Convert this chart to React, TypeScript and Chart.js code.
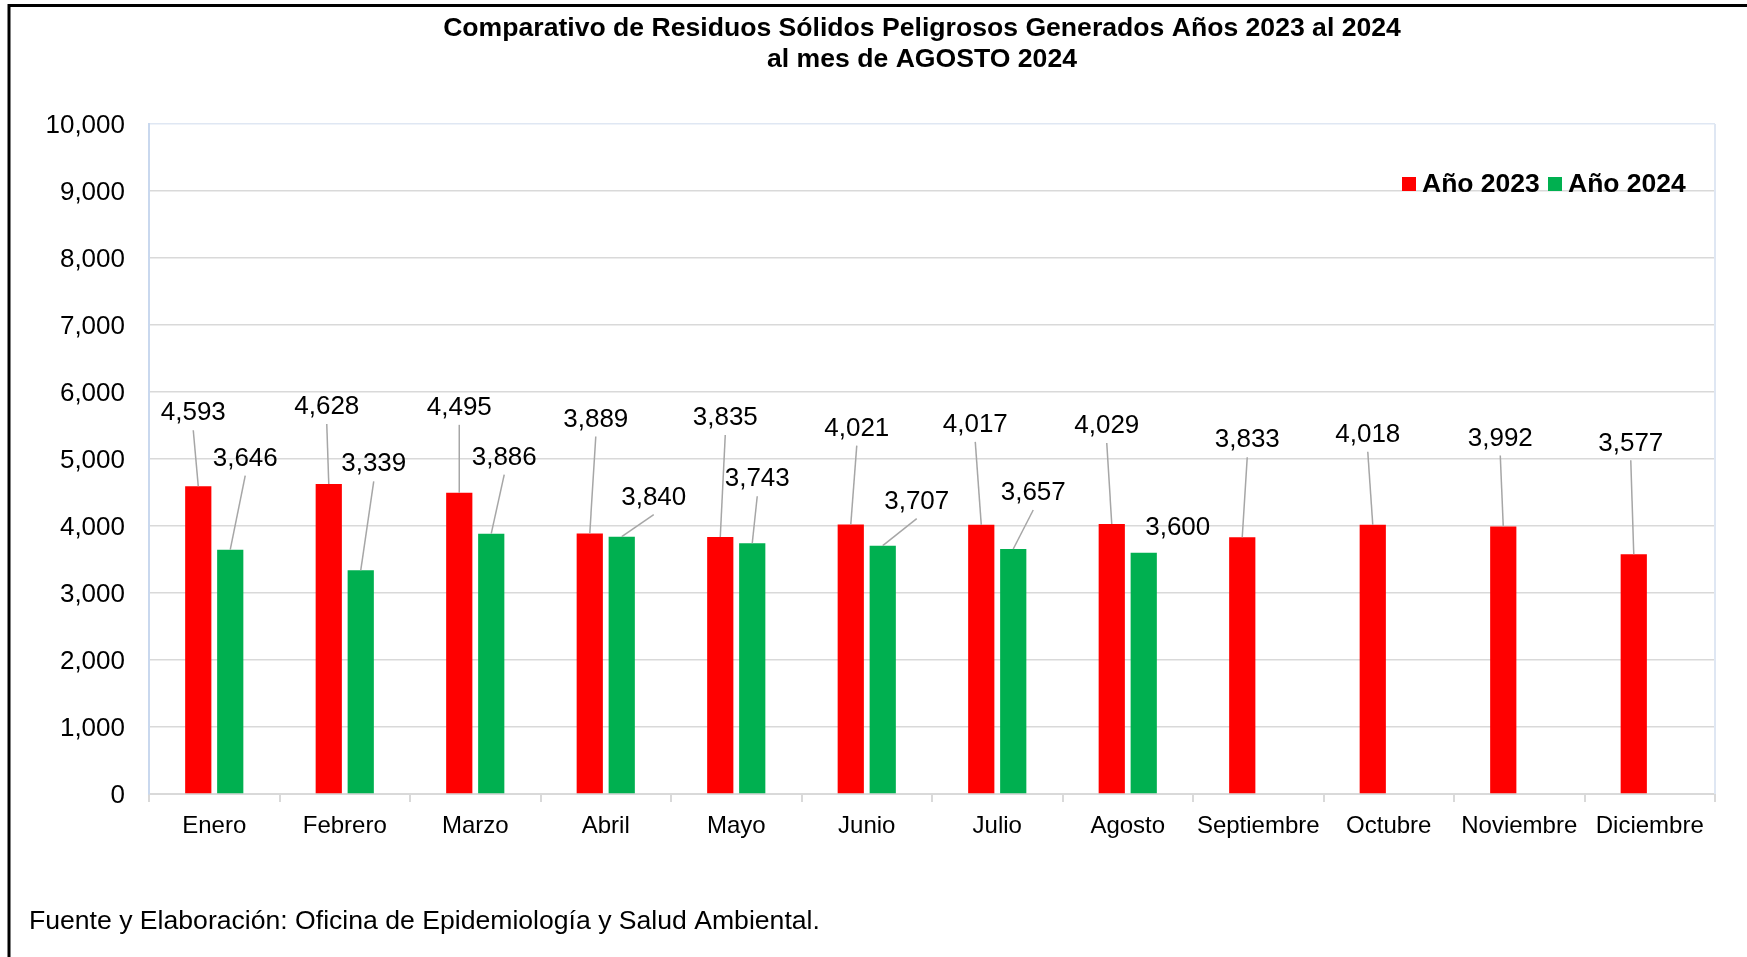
import React, { useEffect, useRef } from "react";
import { Chart, registerables } from "chart.js";

Chart.register(...registerables);

const FONT = "'Liberation Sans', Arial, Helvetica, sans-serif";

const titleLines = [
  "Comparativo de Residuos Sólidos Peligrosos Generados Años 2023 al 2024",
  "al mes de AGOSTO 2024",
];
const footerText = "Fuente y Elaboración: Oficina de Epidemiología y Salud Ambiental.";

const months = [
  "Enero", "Febrero", "Marzo", "Abril", "Mayo", "Junio",
  "Julio", "Agosto", "Septiembre", "Octubre", "Noviembre", "Diciembre",
];
const seriesNames = ["Año 2023", "Año 2024"];
const values2023 = [4593, 4628, 4495, 3889, 3835, 4021, 4017, 4029, 3833, 4018, 3992, 3577];
const values2024 = [3646, 3339, 3886, 3840, 3743, 3707, 3657, 3600, null, null, null, null];
const yMin = 0;
const yMax = 10000;
const yStep = 1000;

const seriesColors = ["#ff0000", "#00b050"];

// label placement offsets (px) relative to the top-centre of each bar
const labelOffsets2023: [number, number][] = [
  [-5, -73], [-2, -77], [0, -85], [6, -114], [5, -119], [6, -96],
  [-6, -100], [-5, -98], [5, -97], [-5, -90], [-3, -88], [-3, -111],
];
const labelOffsets2024: [number, number][] = [
  [15, -91], [13, -106], [13, -76], [32, -39], [5, -64], [34, -44],
  [20, -56], [34, -25],
];
const labelOffsets = [labelOffsets2023, labelOffsets2024];

const fmt = (v: number) => v.toLocaleString("en-US");

const decorPlugin = {
  id: "decor",
  beforeDraw(chart: any) {
    const { ctx, width, height } = chart;
    ctx.save();
    ctx.fillStyle = "#ffffff";
    ctx.fillRect(0, 0, width, height);
    ctx.restore();
  },
  afterDatasetsDraw(chart: any) {
    const { ctx, chartArea } = chart;
    ctx.save();
    // right frame of plot area
    ctx.strokeStyle = "#dfe7f3";
    ctx.lineWidth = 2;
    ctx.beginPath();
    ctx.moveTo(chartArea.right, chartArea.top);
    ctx.lineTo(chartArea.right, chartArea.bottom);
    ctx.stroke();

    // data labels with leader lines
    ctx.font = `26px ${FONT}`;
    ctx.fillStyle = "#000000";
    ctx.textAlign = "center";
    ctx.textBaseline = "middle";
    chart.data.datasets.forEach((ds: any, di: number) => {
      const meta = chart.getDatasetMeta(di);
      meta.data.forEach((bar: any, i: number) => {
        const v = ds.data[i];
        if (v == null) return;
        const off = labelOffsets[di][i] || [0, -30];
        const lx = bar.x + off[0];
        const ly = bar.y + off[1];
        if (bar.y - (ly + 13) > 23) {
          ctx.strokeStyle = "#a6a6a6";
          ctx.lineWidth = 1.5;
          ctx.beginPath();
          ctx.moveTo(lx, ly + 17);
          ctx.lineTo(bar.x, bar.y);
          ctx.stroke();
        }
        ctx.fillText(fmt(v), lx, ly);
      });
    });
    ctx.restore();
  },
  afterDraw(chart: any) {
    const { ctx, width, height } = chart;
    ctx.save();
    // outer frame (left and top edges visible)
    ctx.strokeStyle = "#000000";
    ctx.lineWidth = 3;
    ctx.beginPath();
    ctx.moveTo(9, height);
    ctx.lineTo(9, 5.5);
    ctx.lineTo(width, 5.5);
    ctx.stroke();

    // title
    ctx.fillStyle = "#000000";
    ctx.font = `bold 26.6px ${FONT}`;
    ctx.textAlign = "center";
    ctx.textBaseline = "middle";
    ctx.fillText(titleLines[0], 922, 29);
    ctx.fillText(titleLines[1], 922, 60);

    // legend
    const legendX = [1402, 1548];
    chart.data.datasets.forEach((ds: any, di: number) => {
      ctx.fillStyle = ds.backgroundColor;
      ctx.fillRect(legendX[di], 177, 14, 14);
      ctx.fillStyle = "#000000";
      ctx.font = `bold 26.5px ${FONT}`;
      ctx.textAlign = "left";
      ctx.fillText(ds.label, legendX[di] + 20, 185);
    });

    // footer
    ctx.font = `26.6px ${FONT}`;
    ctx.textAlign = "left";
    ctx.fillStyle = "#000000";
    ctx.fillText(footerText, 29, 922);
    ctx.restore();
  },
};

export default function App() {
  const canvasRef = useRef<HTMLCanvasElement | null>(null);

  useEffect(() => {
    if (!canvasRef.current) return;
    const chart = new Chart(canvasRef.current, {
      type: "bar",
      data: {
        labels: months,
        datasets: [
          {
            label: seriesNames[0],
            data: values2023,
            backgroundColor: seriesColors[0],
            categoryPercentage: 0.49,
            barPercentage: 0.82,
          },
          {
            label: seriesNames[1],
            data: values2024,
            backgroundColor: seriesColors[1],
            categoryPercentage: 0.49,
            barPercentage: 0.82,
          },
        ],
      },
      options: {
        responsive: false,
        animation: false,
        devicePixelRatio: 1,
        layout: { padding: { left: 0, right: 32, top: 124, bottom: 103 } },
        plugins: {
          legend: { display: false },
          title: { display: false },
          tooltip: { enabled: false },
        },
        scales: {
          x: {
            grid: {
              display: true,
              drawOnChartArea: false,
              drawTicks: true,
              tickLength: 8,
              color: "#d9d9d9",
              lineWidth: 2,
            },
            border: { display: true, color: "#d9d9d9", width: 2 },
            ticks: {
              font: { family: FONT, size: 24 },
              color: "#000000",
              padding: 10,
              maxRotation: 0,
              autoSkip: false,
            },
            afterFit: (s: any) => {
              s.height = 60;
            },
          },
          y: {
            min: yMin,
            max: yMax,
            ticks: {
              stepSize: yStep,
              font: { family: FONT, size: 26 },
              color: "#000000",
              padding: 24,
              labelOffset: 2,
              callback: (v: any) => fmt(Number(v)),
            },
            grid: {
              drawTicks: false,
              lineWidth: 1.5,
              color: (c: any) => (c.tick && c.tick.value === yMax ? "#dfe7f3" : "#d9d9d9"),
            },
            border: { display: true, color: "#c9d8ee", width: 2 },
            afterFit: (s: any) => {
              s.width = 149;
            },
          },
        },
      },
      plugins: [decorPlugin],
    });
    return () => chart.destroy();
  }, []);

  return (
    <div style={{ position: "absolute", left: 0, top: 0, width: 1747, height: 957, background: "#fff" }}>
      <canvas ref={canvasRef} width={1747} height={957} style={{ display: "block" }} />
    </div>
  );
}
